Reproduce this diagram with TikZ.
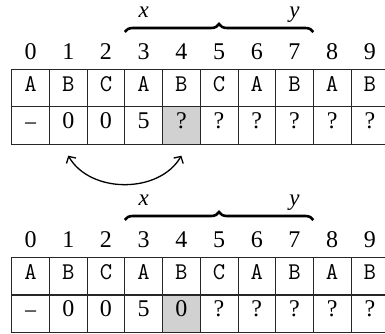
\documentclass[tikz,border=0pt]{standalone}
\usepackage{fontspec}
\setmainfont{Liberation Serif}
\usetikzlibrary{arrows.meta, decorations.pathreplacing}

\begin{document}
\begin{tikzpicture}[x=1pt, y=1pt,
  cell/.style={draw=black!85, line width=0.7pt, minimum width=37.7pt, minimum height=37.5pt, inner sep=0pt, text height=0.66em, text depth=0pt, font=\fontsize{24}{28}\selectfont},
  chr/.style={cell, fill=white, text height=0.62em, font=\fontsize{24}{28}\ttfamily},
  idx/.style={inner sep=0pt, font=\fontsize{24}{28}\selectfont},
  var/.style={inner sep=0pt, anchor=base, font=\fontsize{23}{28}\selectfont\itshape},
  brc/.style={decorate, decoration={brace, amplitude=8pt}, line width=2.6pt}
]
  \useasboundingbox (0,0) rectangle (385,-334);

  % index line, text row, brace and labels (both steps)
  \foreach \blk/\off in {a/0, b/188} {
    \foreach \ch [count=\i from 0] in {A,B,C,A,B,C,A,B,A,B} {
      \node[idx] (i\blk\i) at (30.55+37.7*\i, -51.7-\off) {\i};
      \node[chr] (s\blk\i) at (30.55+37.7*\i, -88-\off) {\ch};
    }
    \node[var] (x\blk) at (143.65, -17.5-\off) {x};
    \node[var] (y\blk) at (294.45, -17.5-\off) {y};
    \coordinate (bl\blk) at (124.8, -32-\off);
    \coordinate (br\blk) at (313.3, -32-\off);
    \draw[brc] (bl\blk) -- (br\blk);
  }

  % values before the step
  \foreach \v/\f [count=\i from 0] in {\raisebox{-3pt}{−}/white, 0/white, 0/white, 5/white, ?/black!18, ?/white, ?/white, ?/white, ?/white, ?/white}
    \node[cell, fill=\f] (pa\i) at (30.55+37.7*\i, -125.6) {\v};

  % values after the step
  \foreach \v/\f [count=\i from 0] in {\raisebox{-3pt}{−}/white, 0/white, 0/white, 5/white, 0/black!18, ?/white, ?/white, ?/white, ?/white, ?/white}
    \node[cell, fill=\f] (pb\i) at (30.55+37.7*\i, -313.6) {\v};

  \draw[line width=1.3pt, {Straight Barb[length=5pt,width=11pt]}-{Straight Barb[length=5pt,width=11pt]}]
    ([yshift=-11pt]pa1.south) to[out=-60, in=-120] ([yshift=-11pt]pa4.south);
\end{tikzpicture}
\end{document}
